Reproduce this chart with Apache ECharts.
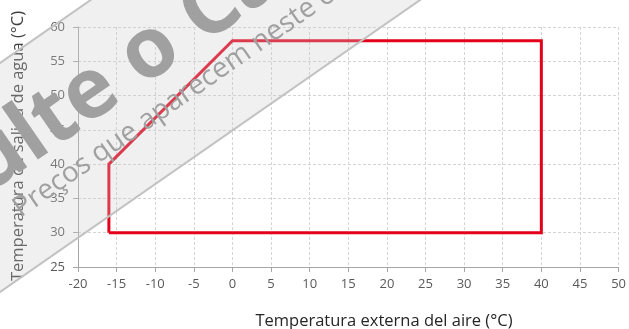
<!DOCTYPE html>
<html>
<head>
<meta charset="utf-8">
<script src="https://cdn.jsdelivr.net/npm/echarts@6/dist/echarts.min.js"></script>
<style>
  html, body { margin: 0; padding: 0; background: #fff; }
  #chart { width: 629px; height: 329px; }
</style>
</head>
<body>
<div id="chart"></div>
<script>
// Operating envelope: outside air temperature vs. leaving water temperature
const envelopeAirTemp   = [-16, -16, 0, 40, 40, -16];
const envelopeWaterTemp = [30, 40, 58, 58, 30, 30];

const xAxisRange = { min: -20, max: 50, step: 5 };
const yAxisRange = { min: 25, max: 60, step: 5 };

const xAxisTitle = 'Temperatura externa del aire (°C)';
const yAxisTitle = 'Temperatura de salida de agua (°C)';

const stampLine1Lead = 'Consulte o';
const stampLine1Tail = 'Catálogo';
const stampLine2Lead = 'Preços que ';
const stampLine2Key  = 'aparecem';
const stampLine2Tail = ' neste catálogo';

const FONT = '"Open Sans", "Noto Sans", sans-serif';

const envelopePoints = envelopeAirTemp.map((x, i) => [x, envelopeWaterTemp[i]]);

const chart = echarts.init(document.getElementById('chart'), null, { renderer: 'canvas' });

// text width helper for laying out the stamp lines
const measureCtx = document.createElement('canvas').getContext('2d');
function textWidth(text, font) {
  measureCtx.font = font;
  return measureCtx.measureText(text).width;
}

// diagonal stamp band across the upper-left part of the plot
const theta = Math.atan(0.695);
const STAMP_Z = 100;
const stampFill = '#a0a0a0';
const bigFont = 'bold 84px ' + FONT;
const smallFont = '28px ' + FONT;
function stampText(x, y, text, font, align) {
  return {
    type: 'text', x: x, y: y, z: STAMP_Z + 2,
    style: { text: text, font: font, fill: stampFill,
             textAlign: align, textVerticalAlign: 'middle', align: align, verticalAlign: 'middle',
             blend: 'multiply' }
  };
}
// centre of "o" sits at 129 along the band; centre of "aparecem" at 142
const line1Start = 129 + textWidth('o', bigFont) / 2 - textWidth(stampLine1Lead, bigFont);
const line2Start = 146 - textWidth(stampLine2Key, smallFont) / 2 - textWidth(stampLine2Lead, smallFont);

const stamp = {
  type: 'group',
  x: 0,
  y: 63,
  rotation: theta,
  z: STAMP_Z,
  silent: true,
  children: [
    { type: 'rect', z: STAMP_Z, shape: { x: -400, y: 0, width: 1600, height: 188 },
      style: { fill: 'rgba(204,204,204,0.29)' } },
    { type: 'line', z: STAMP_Z + 1, shape: { x1: -400, y1: 0, x2: 1200, y2: 0 },
      style: { stroke: '#c2c2c2', lineWidth: 2 } },
    { type: 'line', z: STAMP_Z + 1, shape: { x1: -400, y1: 188, x2: 1200, y2: 188 },
      style: { stroke: '#c2c2c2', lineWidth: 2 } },
    stampText(line1Start, 77, stampLine1Lead + ' ' + stampLine1Tail, bigFont, 'left'),
    stampText(line2Start, 131, stampLine2Lead + stampLine2Key + stampLine2Tail, smallFont, 'left')
  ]
};

const option = {
  animation: false,
  backgroundColor: '#ffffff',
  grid: { left: 78, right: 6, top: 27, bottom: 62, containLabel: false },
  xAxis: {
    type: 'value',
    min: xAxisRange.min, max: xAxisRange.max, interval: xAxisRange.step,
    axisLine: { show: true, onZero: false, lineStyle: { color: '#a6a6a6', width: 1 } },
    axisTick: { show: true, length: 5, lineStyle: { color: '#a6a6a6' } },
    axisLabel: { color: '#595959', fontSize: 13, fontFamily: FONT, margin: 11 },
    splitLine: { show: true, lineStyle: { color: '#d4d4d4', type: [3, 2], width: 1 } }
  },
  yAxis: {
    type: 'value',
    min: yAxisRange.min, max: yAxisRange.max, interval: yAxisRange.step,
    axisLine: { show: true, onZero: false, lineStyle: { color: '#a6a6a6', width: 1 } },
    axisTick: { show: true, length: 5, lineStyle: { color: '#a6a6a6' } },
    axisLabel: { color: '#595959', fontSize: 13, fontFamily: FONT, margin: 13 },
    splitLine: { show: true, lineStyle: { color: '#d4d4d4', type: [3, 2], width: 1 } }
  },
  series: [{
    type: 'line',
    data: envelopePoints,
    symbol: 'none',
    lineStyle: { color: '#e2001a', width: 3, join: 'miter' },
    z: 5
  }],
  graphic: [
    { type: 'text', x: 384, y: 321, z: 50,
      style: { text: xAxisTitle, font: '16.5px ' + FONT, fill: '#262626',
               textAlign: 'center', textVerticalAlign: 'middle', align: 'center', verticalAlign: 'middle' } },
    { type: 'text', x: 18, y: 146, rotation: Math.PI / 2, z: 50,
      style: { text: yAxisTitle, font: '16.5px ' + FONT, fill: '#404040',
               textAlign: 'center', textVerticalAlign: 'middle', align: 'center', verticalAlign: 'middle' } },
    stamp
  ]
};

chart.setOption(option);
</script>
</body>
</html>
